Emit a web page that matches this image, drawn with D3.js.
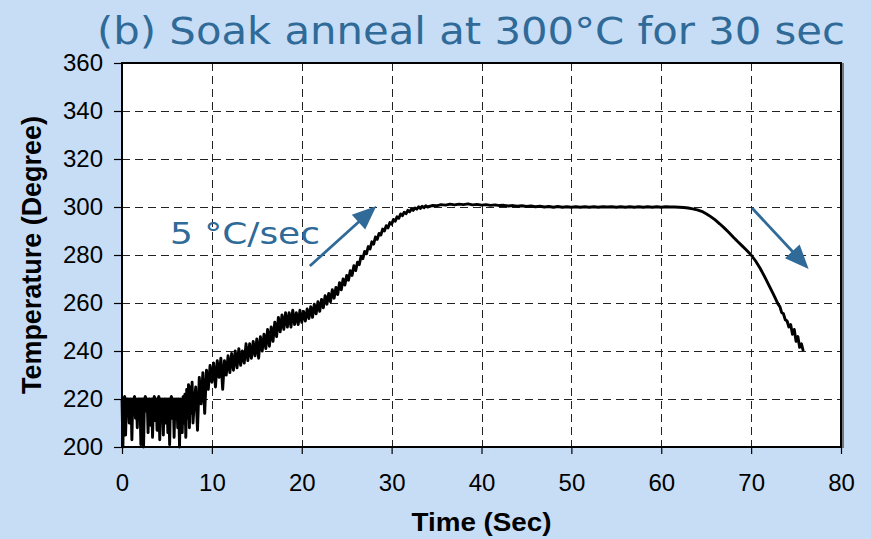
<!DOCTYPE html>
<html><head><meta charset="utf-8">
<script src="https://cdn.jsdelivr.net/npm/d3@7"></script>
<style>body{margin:0;background:#C6DDF5;} svg{display:block}</style>
</head><body><svg id="c" width="871" height="539"></svg>
<script>
const chartTitle = "(b) Soak anneal at 300°C for 30 sec";
const xLabel = "Time (Sec)";
const yLabel = "Temperature (Degree)";
const xTicks = [0,10,20,30,40,50,60,70,80];
const yTicks = [200,220,240,260,280,300,320,340,360];

// temperature samples: [start time, step, values]
const segA = [220,200,220,221,205,220,220,220,210,220,
  220,203,220,220,221,212,220,208,220,220,
  220,201,220,220,200,220,221,215,220,206,
  220,220,209,220,204,220,221,211,220,207,
  220,221,203,220,214,220,205,220,220,210,
  220,206,220,201,220,221,212,220,204,220,
  218,220,208,220,200,220,214,206,221,210,
  222,204,224,212,226,208,225,214,227,210];
const segB = [216,225,207,229,218,231,214,232,224,234,
  227,235,225,236,229,237,224,236,230,238,
  231,239,232,240,233,241,234,240,235,243,
  236,243,237,244,238,245,237,246,240,247,
  241,249,242,250,244,252,246,254,248,255,
  249,256,250,256,250,257,251,256,251,257,
  252];
const segC = [256.5,252.5,257.5,253.5,258.5,254,259.5,255.5,260.5,256.5,
  261.5,258,263,259.5,264,260.5,265.5,262,266.5,263.5,
  268.5,265.5,270,267.5,271.5,269.5,273.5,271.5,275.5,273.5,
  277,276,279.5,278.5,281.5,280.5,283.5,282.5,285.5,284.5,
  287.5,286.5,289,288.3,290.8,290,292.2,291.3,293.5,292.8,
  294.8,294.1,295.9,295.3,297.1,296.4,297.8,297.2,298.6,298,
  299.2,298.6,299.6,299.1,300.1,299.4,300.3,299.7,300.5,300];
const segD = [300.6,300.5,301,300.8,301.2,300.9,301.2,301,301.3,300.9,301.1,300.8,
  301,300.7,300.9,300.6,300.7,300.4,300.6,300.3,300.5,300.2,300.4,300.1,300.3,300,
  300.2,299.9,300.2,299.9,300.1,299.9,300.1,299.9,300.1,299.9,300.1,299.9,300.1,300,
  300.1,299.9,300.1,299.9,300.1,299.9,300.1,299.9,300.1,299.9,300.1,299.9,300.1,300,300,299.9];
const segE = [299.8,299.6,299.2,298.8,298.2,297.2,296,294.6,293,291.3,289.5,
  287.5,285.6,283.8,282,280,277.5,274.5,271,267.2,263.5,259.5];
const segF = [258.5,256,255.5,253,252.5,250,251,247,249,244,246,241.5,243,240];
const segments = [[0,0.1,segA],[8,0.2,segB],[20.2,0.2,segC],[34.5,0.5,segD],[62.5,0.5,segE],[73.2,0.2,segF]];

// annotations (data coordinates)
const rateText = "5 °C/sec";
const rateTextPos = [5.34, 284.6];
const arrowUp = [[20.9,275.4],[28.3,300.4]];
const arrowDown = [[70.1,299.6],[76.4,274.2]];

const blue = "#2F6A98";
const svg = d3.select("#c");
const W = 871, H = 539;
svg.append("rect").attr("width",W).attr("height",H).attr("fill","#C6DDF5");

const x = d3.scaleLinear().domain([0,80]).range([122,841]);
const y = d3.scaleLinear().domain([200,360]).range([447,63]);

// plot bg
svg.append("rect").attr("x",x(0)).attr("y",y(360)).attr("width",x(80)-x(0)).attr("height",y(200)-y(360)).attr("fill","#fff");

// grid
const grid = svg.append("g").attr("stroke","#222").attr("stroke-width",1).attr("stroke-dasharray","8,5");
grid.selectAll("line.v").data(xTicks.filter(d=>d>0&&d<80)).join("line")
  .attr("x1",d=>Math.round(x(d))+0.5).attr("x2",d=>Math.round(x(d))+0.5).attr("y1",y(360)).attr("y2",y(200));
grid.selectAll("line.h").data(yTicks.filter(d=>d>200&&d<360)).join("line")
  .attr("y1",d=>Math.round(y(d))+0.5).attr("y2",d=>Math.round(y(d))+0.5).attr("x1",x(0)).attr("x2",x(80));

// data
const pts = [];
segments.forEach(([s,st,arr])=>arr.forEach((v,i)=>pts.push([s+i*st, v])));
svg.append("path").datum(pts)
  .attr("d", d3.line().x(d=>x(d[0])).y(d=>y(d[1])))
  .attr("fill","none").attr("stroke","#000").attr("stroke-width",2.9).attr("stroke-linejoin","round");

// frame
svg.append("rect").attr("x",x(0)).attr("y",y(360)).attr("width",x(80)-x(0)).attr("height",y(200)-y(360))
  .attr("fill","none").attr("stroke","#000").attr("stroke-width",2);
svg.append("line").attr("x1",x(80)+2).attr("x2",x(80)+2).attr("y1",y(360)).attr("y2",y(200)+1).attr("stroke","#555").attr("stroke-width",1.5);

// axes
const fontTick = "Liberation Sans, Arial, sans-serif";
const ax = svg.append("g").attr("transform",`translate(0,${y(200)})`)
  .call(d3.axisBottom(x).tickValues(xTicks).tickSize(7).tickPadding(20).tickFormat(d3.format("d")));
const ay = svg.append("g").attr("transform",`translate(${x(0)},0)`)
  .call(d3.axisLeft(y).tickValues(yTicks).tickSize(8).tickPadding(11).tickFormat(d3.format("d")));
[ax,ay].forEach(g=>{
  g.select(".domain").remove();
  g.selectAll(".tick line").attr("stroke","#000").attr("stroke-width",1.2);
  g.selectAll("text").attr("font-family",fontTick).attr("font-size",24).attr("fill","#000");
});

// axis titles
svg.append("text").attr("x",(x(0)+x(80))/2).attr("y",531).attr("text-anchor","middle")
  .attr("font-family",fontTick).attr("font-weight","bold").attr("font-size",25)
  .attr("textLength",140).attr("lengthAdjust","spacingAndGlyphs").text(xLabel);
svg.append("text").attr("transform",`translate(41,${(y(200)+y(360))/2}) rotate(-90)`).attr("text-anchor","middle")
  .attr("font-family",fontTick).attr("font-weight","bold").attr("font-size",27)
  .attr("textLength",278).attr("lengthAdjust","spacingAndGlyphs").text(yLabel);

// title
svg.append("text").attr("x",97).attr("y",44)
  .attr("font-family","DejaVu Sans, Verdana, sans-serif").attr("font-size",37).attr("fill",blue)
  .attr("textLength",748).attr("lengthAdjust","spacingAndGlyphs").text(chartTitle);

// annotation
svg.append("text").attr("x",x(rateTextPos[0])).attr("y",y(rateTextPos[1]))
  .attr("font-family","DejaVu Sans, Verdana, sans-serif").attr("font-size",30).attr("fill",blue)
  .attr("textLength",150).attr("lengthAdjust","spacingAndGlyphs").text(rateText);

function arrow(a){
  const x1=x(a[0][0]), y1=y(a[0][1]), x2=x(a[1][0]), y2=y(a[1][1]);
  const dx=x2-x1, dy=y2-y1, L=Math.hypot(dx,dy), ux=dx/L, uy=dy/L;
  const hl=24, hw=10;
  const bx=x2-ux*hl, by=y2-uy*hl;
  svg.append("line").attr("x1",x1).attr("y1",y1).attr("x2",bx+ux*2).attr("y2",by+uy*2)
    .attr("stroke",blue).attr("stroke-width",2.8);
  svg.append("path").attr("d",`M${x2},${y2}L${bx-uy*hw},${by+ux*hw}L${bx+uy*hw},${by-ux*hw}Z`).attr("fill",blue);
}
arrow(arrowUp); arrow(arrowDown);
</script></body></html>
